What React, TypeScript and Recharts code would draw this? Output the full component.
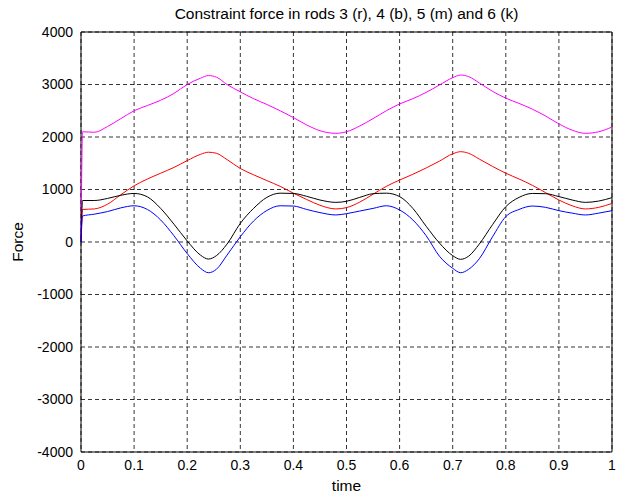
import React from 'react';
import { LineChart, Line, XAxis, YAxis, CartesianGrid, ReferenceArea } from 'recharts';

const time = [0, 0.003, 0.025, 0.05, 0.075, 0.1, 0.125, 0.15, 0.175, 0.2, 0.225, 0.24, 0.255, 0.275, 0.3, 0.325, 0.35, 0.375, 0.4, 0.425, 0.45, 0.48, 0.5, 0.525, 0.55, 0.575, 0.6, 0.625, 0.65, 0.675, 0.7, 0.715, 0.73, 0.75, 0.775, 0.8, 0.825, 0.85, 0.875, 0.9, 0.925, 0.95, 0.975, 1.0];

// rod 3 (red)
const rod3 = [0, 620, 630, 720, 900, 1070, 1200, 1310, 1420, 1550, 1670, 1710, 1690, 1570, 1400, 1280, 1170, 1060, 930, 810, 700, 630, 655, 760, 910, 1060, 1180, 1290, 1410, 1540, 1680, 1720, 1690, 1580, 1440, 1310, 1200, 1080, 940, 800, 690, 630, 660, 735];
// rod 4 (blue)
const rod4 = [0, 495, 530, 580, 650, 690, 620, 420, 120, -220, -500, -585, -520, -250, 100, 400, 600, 690, 685, 620, 560, 515, 540, 590, 640, 690, 610, 420, 120, -270, -500, -585, -520, -320, 100, 483, 620, 685, 660, 597, 550, 515, 550, 597];
// rod 5 (magenta)
const rod5 = [0, 2100, 2090, 2200, 2350, 2500, 2600, 2700, 2830, 3000, 3120, 3170, 3140, 3000, 2860, 2730, 2620, 2500, 2370, 2230, 2120, 2070, 2100, 2210, 2350, 2500, 2630, 2730, 2850, 2990, 3130, 3180, 3150, 3030, 2870, 2740, 2640, 2530, 2400, 2250, 2130, 2070, 2100, 2190];
// rod 6 (black)
const rod6 = [0, 790, 790, 830, 890, 925, 860, 640, 340, 20, -250, -325, -260, -40, 355, 640, 850, 930, 925, 870, 800, 755, 775, 850, 920, 930, 865, 640, 300, -20, -260, -330, -270, -40, 330, 673, 850, 925, 920, 865, 800, 755, 780, 845];

const xTicks = [0, 0.1, 0.2, 0.3, 0.4, 0.5, 0.6, 0.7, 0.8, 0.9, 1];
const yTicks = [-4000, -3000, -2000, -1000, 0, 1000, 2000, 3000, 4000];

const data = time.map((t, i) => ({ t, r: rod3[i], b: rod4[i], m: rod5[i], k: rod6[i] }));

const font = '"Liberation Sans", Arial, sans-serif';
const tickStyle = { fontSize: 14, fill: '#000', fontFamily: font };

const App: React.FC = () => {
  return (
    <div style={{ position: 'absolute', left: 0, top: 0, width: 620, height: 496, background: '#fff', fontFamily: font }}>
      <div style={{ position: 'absolute', left: 81, width: 531, top: 5, lineHeight: '18px', textAlign: 'center', fontSize: 15.5, color: '#000' }}>
        Constraint force in rods 3 (r), 4 (b), 5 (m) and 6 (k)
      </div>
      <div style={{ position: 'absolute', left: 81, width: 531, top: 477, lineHeight: '18px', textAlign: 'center', fontSize: 15.5, color: '#000' }}>
        time
      </div>
      <div style={{ position: 'absolute', left: 18, top: 242, lineHeight: '18px', transform: 'translate(-50%, -50%) rotate(-90deg)', fontSize: 15.5, color: '#000' }}>
        Force
      </div>
      <LineChart width={620} height={496} data={data} margin={{ top: 32, right: 8, bottom: 14, left: 0 }}>
        <CartesianGrid stroke="#000" strokeDasharray="4 3" strokeWidth={0.8} />
        <XAxis
          dataKey="t"
          type="number"
          domain={[0, 1]}
          ticks={xTicks}
          tickLine={false}
          axisLine={false}
          height={30}
          tick={tickStyle}
          interval={0}
        />
        <YAxis
          type="number"
          domain={[-4000, 4000]}
          ticks={yTicks}
          tickLine={false}
          axisLine={false}
          width={81}
          tick={tickStyle}
          interval={0}
        />
        <ReferenceArea x1={0} x2={1} y1={-4000} y2={4000} fill="none" stroke="#000" strokeWidth={1} ifOverflow="visible" />
        <Line type="monotone" dataKey="m" stroke="#ff00ff" strokeWidth={1} dot={false} isAnimationActive={false} />
        <Line type="monotone" dataKey="r" stroke="#ff0000" strokeWidth={1} dot={false} isAnimationActive={false} />
        <Line type="monotone" dataKey="k" stroke="#000000" strokeWidth={1} dot={false} isAnimationActive={false} />
        <Line type="monotone" dataKey="b" stroke="#0000ff" strokeWidth={1} dot={false} isAnimationActive={false} />
      </LineChart>
    </div>
  );
};

export default App;
